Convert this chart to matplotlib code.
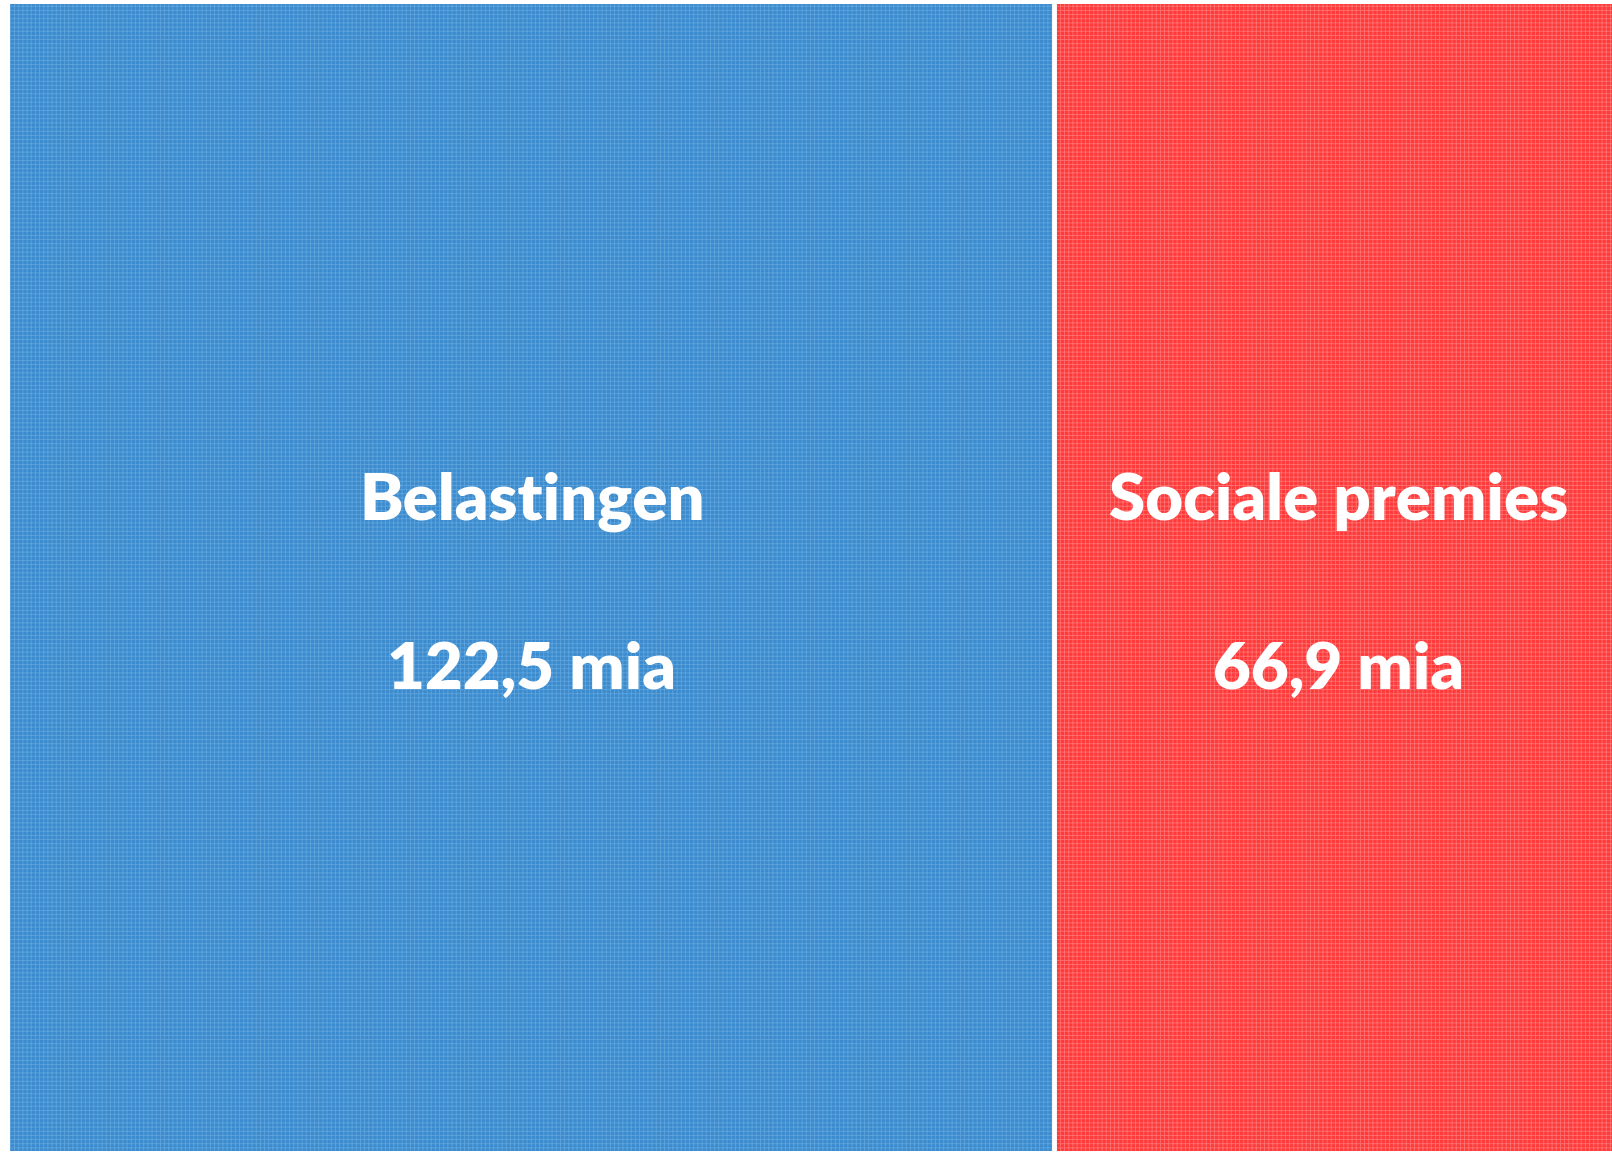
import matplotlib.pyplot as plt
from matplotlib.patches import Rectangle

# data
labels = ['Belastingen', 'Sociale premies']
values = [122.5, 66.9]
value_labels = ['122,5 mia', '66,9 mia']
colors = ['#3b8bce', '#ff3a3a']
hatch_colors = ['#5ea4dc', '#ff7070']

plt.rcParams['hatch.linewidth'] = 0.6

fig = plt.figure(figsize=(16.12, 11.53), dpi=100)
# treemap runs a little past the right edge of the picture
ax = fig.add_axes([10 / 1612, 2 / 1153, 1614 / 1612, 1147 / 1153])
total = sum(values)
ax.set_xlim(0, total)
ax.set_ylim(0, 1)
ax.axis('off')

x0 = 0
for lab, v, vl, c, hc in zip(labels, values, value_labels, colors, hatch_colors):
    ax.add_patch(Rectangle((x0, 0), v, 1, facecolor=c, edgecolor='none'))
    ax.add_patch(Rectangle((x0, 0), v, 1, facecolor='none', edgecolor=hc,
                           hatch='++++', linewidth=0))
    xc = x0 + v / 2
    ax.text(xc, 0.566, lab, ha='center', va='center', color='white',
            fontsize=47, fontweight='heavy', family='Lato')
    ax.text(xc, 0.419, vl, ha='center', va='center', color='white',
            fontsize=47, fontweight='heavy', family='Lato')
    x0 += v

# white separator between the blocks
ax.axvline(values[0], color='white', lw=3.5)

fig.savefig('out.png', dpi=100)
